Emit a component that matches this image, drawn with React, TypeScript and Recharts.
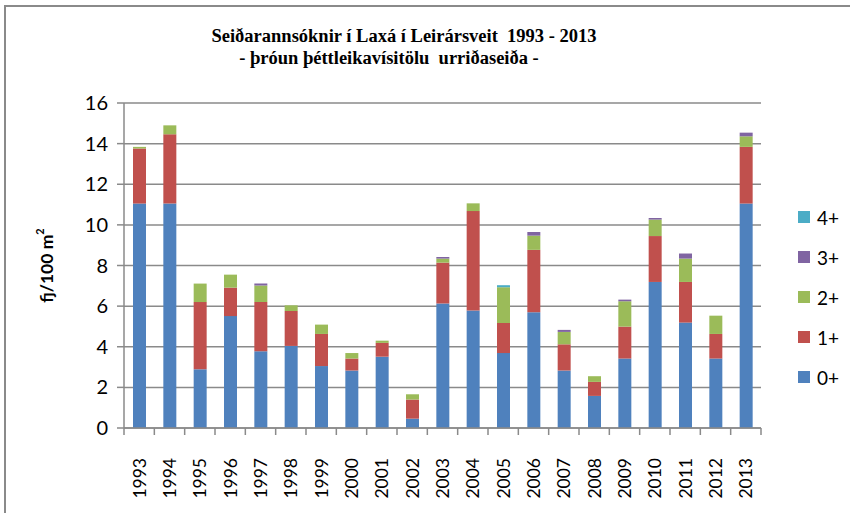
import React from 'react';
import { BarChart, Bar, XAxis, YAxis, CartesianGrid } from 'recharts';

// fjöldi seiða á 100 m2, eftir aldurshópum
const years = ['1993', '1994', '1995', '1996', '1997', '1998', '1999', '2000', '2001', '2002', '2003',
  '2004', '2005', '2006', '2007', '2008', '2009', '2010', '2011', '2012', '2013'];
const age0 = [11.05, 11.05, 2.89, 5.51, 3.78, 4.04, 3.05, 2.83, 3.51, 0.46, 6.13,
  5.78, 3.69, 5.7, 2.83, 1.58, 3.42, 7.19, 5.19, 3.42, 11.05];
const age1 = [2.71, 3.41, 3.31, 1.4, 2.42, 1.72, 1.58, 0.59, 0.68, 0.94, 2.01,
  4.9, 1.48, 3.07, 1.29, 0.69, 1.57, 2.26, 2.0, 1.21, 2.79];
const age2 = [0.08, 0.44, 0.91, 0.64, 0.81, 0.28, 0.46, 0.27, 0.11, 0.26, 0.2,
  0.38, 1.76, 0.7, 0.61, 0.28, 1.25, 0.81, 1.15, 0.9, 0.52];
const age3 = [0, 0, 0, 0, 0.1, 0, 0, 0, 0, 0, 0.08,
  0, 0, 0.18, 0.1, 0, 0.08, 0.08, 0.25, 0, 0.18];
const age4 = [0, 0, 0, 0, 0, 0, 0, 0, 0, 0, 0,
  0, 0.1, 0, 0, 0, 0, 0, 0, 0, 0];
const yTicks = [0, 2, 4, 6, 8, 10, 12, 14, 16];

const series = [
  { key: 'a0', name: '0+', color: '#4F81BD' },
  { key: 'a1', name: '1+', color: '#C0504D' },
  { key: 'a2', name: '2+', color: '#9BBB59' },
  { key: 'a3', name: '3+', color: '#8064A2' },
  { key: 'a4', name: '4+', color: '#4BACC6' },
];

const data = years.map((y, i) => ({
  year: y,
  a0: age0[i],
  a1: age1[i],
  a2: age2[i],
  a3: age3[i],
  a4: age4[i],
}));

const W = 850;
const H = 513;
const GRID = '#8a8a8a';
const FONT = 'Lato, "Open Sans", sans-serif';
const BAND = (761 - 124) / years.length;

// Excel-style tick: mark between categories, rotated year label
const YearTick = (props: any) => {
  const { x, y, payload, index } = props;
  const last = index === years.length - 1;
  const ty = y + 22;
  return (
    <g>
      <line x1={x - BAND / 2} y1={y - 8} x2={x - BAND / 2} y2={y - 1} stroke={GRID} strokeWidth={1.5} />
      {last && (
        <line x1={x + BAND / 2} y1={y - 8} x2={x + BAND / 2} y2={y - 1} stroke={GRID} strokeWidth={1.5} />
      )}
      <text
        x={x}
        y={ty}
        transform={`rotate(-90 ${x} ${ty})`}
        textAnchor="end"
        dominantBaseline="central"
        fontSize={17.5}
        fontFamily={FONT}
        fill="#000"
      >
        {payload.value}
      </text>
    </g>
  );
};

const YLabel = (props: any) => {
  const { viewBox } = props;
  const cx = 46;
  const cy = viewBox.y + viewBox.height / 2;
  return (
    <text
      x={cx}
      y={cy}
      transform={`rotate(-90 ${cx} ${cy})`}
      textAnchor="middle"
      dominantBaseline="central"
      fontSize={17.5}
      fontWeight="bold"
      fontFamily={FONT}
      fill="#000"
    >
      fj/100 m<tspan fontSize={11} dy={-7}>2</tspan>
    </text>
  );
};

const LegendBox = () => (
  <div style={{ position: 'absolute', left: 798, top: 197, fontFamily: FONT, fontSize: 19, color: '#000' }}>
    {[...series].reverse().map((s) => (
      <div key={s.key} style={{ display: 'flex', alignItems: 'center', height: 40 }}>
        <div style={{ width: 12, height: 12, background: s.color, marginRight: 7 }} />
        <span>{s.name}</span>
      </div>
    ))}
  </div>
);

export default function App() {
  return (
    <div style={{ position: 'absolute', left: 0, top: 0, width: W, height: H, overflow: 'hidden', background: '#fff' }}>
      <div
        style={{
          position: 'absolute',
          left: 4,
          top: 5,
          width: W + 20,
          height: H + 20,
          borderLeft: `2px solid ${GRID}`,
          borderTop: `2px solid ${GRID}`,
        }}
      />
      <div
        style={{
          position: 'absolute',
          top: 25,
          left: 0,
          width: 808,
          textAlign: 'center',
          fontFamily: '"Liberation Serif", "Times New Roman", serif',
          fontWeight: 'bold',
          fontSize: 18.5,
          lineHeight: '22px',
        }}
      >
        <div>Seiðarannsóknir í Laxá í Leirársveit&nbsp; 1993 - 2013</div>
        <div style={{ marginLeft: -30 }}>- þróun þéttleikavísitölu&nbsp; urriðaseiða -</div>
      </div>
      <div style={{ position: 'absolute', left: 0, top: 0 }}>
        <BarChart width={W} height={H} data={data} margin={{ top: 103, right: 89, bottom: 0, left: 0 }} barSize={13}>
          <CartesianGrid vertical={false} stroke={GRID} strokeWidth={1.5} />
          <XAxis
            dataKey="year"
            height={85}
            axisLine={{ stroke: GRID, strokeWidth: 1.5 }}
            tickLine={false}
            tick={<YearTick />}
            interval={0}
          />
          <YAxis
            width={124}
            domain={[0, 16]}
            ticks={yTicks}
            interval={0}
            axisLine={{ stroke: GRID, strokeWidth: 1.5 }}
            tickLine={{ stroke: GRID, strokeWidth: 1.5 }}
            tickSize={7}
            tickMargin={9}
            tick={{ fill: '#000', fontSize: 20, fontFamily: FONT }}
            label={<YLabel />}
          />
          {series.map((s) => (
            <Bar key={s.key} dataKey={s.key} name={s.name} stackId="a" fill={s.color} isAnimationActive={false} />
          ))}
        </BarChart>
      </div>
      <LegendBox />
    </div>
  );
}
